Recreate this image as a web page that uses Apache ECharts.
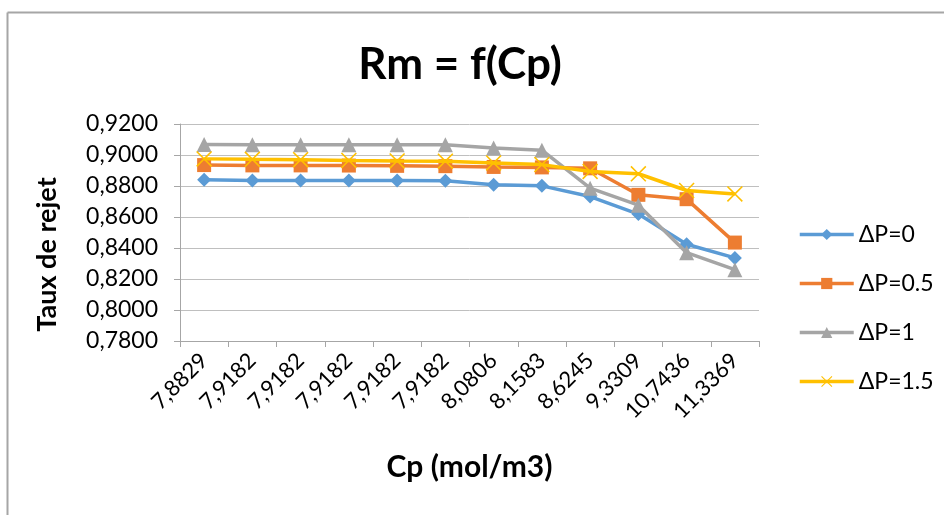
<!DOCTYPE html>
<html><head><meta charset="utf-8">
<script src="https://cdn.jsdelivr.net/npm/echarts@6/dist/echarts.min.js"></script>
<style>html,body{margin:0;padding:0;background:#fff}#c{width:944px;height:515px}</style>
</head><body><div id="c"></div>
<script>
const categories = ['7,8829','7,9182','7,9182','7,9182','7,9182','7,9182','8,0806','8,1583','8,6245','9,3309','10,7436','11,3369'];
const seriesNames = ['ΔP=0','ΔP=0.5','ΔP=1','ΔP=1.5'];
const dp0   = [0.8840,0.8835,0.8835,0.8835,0.8835,0.8834,0.8808,0.8801,0.8732,0.8619,0.8424,0.8336];
const dp05  = [0.8935,0.8933,0.8933,0.8932,0.8930,0.8928,0.8923,0.8920,0.8914,0.8743,0.8715,0.8435];
const dp1   = [0.9068,0.9066,0.9066,0.9066,0.9066,0.9066,0.9045,0.9031,0.8786,0.8676,0.8370,0.8260];
const dp15  = [0.8975,0.8972,0.8970,0.8965,0.8962,0.8960,0.8949,0.8938,0.8894,0.8879,0.8771,0.8749];
const yMin = 0.78, yMax = 0.92, yStep = 0.02;

const colors = ['#5B9BD5','#ED7D31','#A5A5A5','#FFC000'];
const xPath = 'path://M0,0.7L0.7,0L5,4.3L9.3,0L10,0.7L5.7,5L10,9.3L9.3,10L5,5.7L0.7,10L0,9.3L4.3,5Z';
const symbols = ['diamond','rect','triangle',xPath];
const sizes = [14,14,15,16];
const datasets = [dp0,dp05,dp1,dp15];
const font = 'Lato, "Open Sans", sans-serif';

const chart = echarts.init(document.getElementById('c'));
chart.setOption({
  animation:false,
  backgroundColor:'#fff',
  color:colors,
  title:{text:'Rm = f(Cp)',left:455,top:38,textAlign:'center',
    textStyle:{fontFamily:font,fontSize:44,fontWeight:'bold',color:'#000'}},
  graphic:[
    {type:'line',shape:{x1:7.5,y1:12.5,x2:944,y2:12.5},style:{stroke:'#a6a6a6',lineWidth:2}},
    {type:'line',shape:{x1:7.5,y1:12.5,x2:7.5,y2:515},style:{stroke:'#a6a6a6',lineWidth:2}}
  ],
  legend:{orient:'vertical',left:798,top:223,padding:0,itemWidth:54,itemHeight:14,itemGap:26,
    data:seriesNames,
    lineStyle:{width:3.5},
    textStyle:{fontFamily:font,fontSize:23,color:'#000',padding:[0,0,0,0]}},
  grid:{left:180,right:185,top:124,bottom:174,containLabel:false},
  xAxis:{type:'category',data:categories,boundaryGap:true,
    name:'Cp (mol/m3)',nameLocation:'middle',nameGap:111,
    nameTextStyle:{fontFamily:font,fontSize:30,fontWeight:'bold',color:'#000'},
    axisLine:{lineStyle:{color:'#a6a6a6',width:1}},
    axisTick:{show:true,alignWithLabel:false,length:6,lineStyle:{color:'#a6a6a6'}},
    axisLabel:{rotate:45,fontFamily:font,fontSize:22,color:'#000',margin:16,interval:0},
    splitLine:{show:false}},
  yAxis:{type:'value',min:yMin,max:yMax,interval:yStep,
    name:'Taux de rejet',nameLocation:'middle',nameGap:119,
    nameTextStyle:{fontFamily:font,fontSize:27,fontWeight:'bold',color:'#000',padding:[0,44,0,0]},
    axisLine:{show:true,lineStyle:{color:'#a6a6a6'}},
    axisTick:{show:true,length:6,lineStyle:{color:'#a6a6a6'}},
    axisLabel:{fontFamily:font,fontSize:23,color:'#000',margin:22,
      formatter:v=>v.toFixed(4).replace('.',',')},
    splitLine:{show:true,lineStyle:{color:'#bfbfbf',width:1}}},
  series:datasets.map((d,i)=>({
    name:seriesNames[i],type:'line',data:d,
    symbol:symbols[i],symbolSize:sizes[i],showAllSymbol:true,
    lineStyle:{width:3.5,color:colors[i]},
    itemStyle:{color:colors[i]},
    z:[2,3,4,5][i]
  }))
});
</script></body></html>
